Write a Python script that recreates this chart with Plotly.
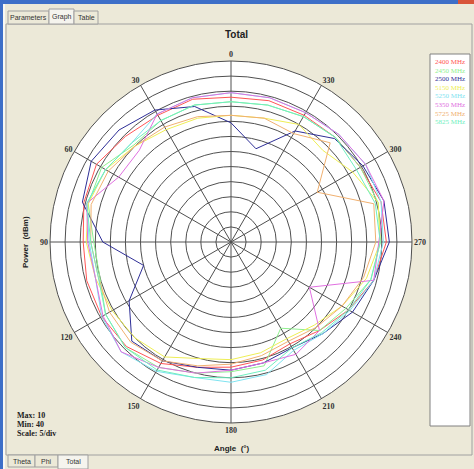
import plotly.graph_objects as go

W, H = 474, 469

angles = [0, 15, 30, 45, 60, 75, 90, 105, 120, 135, 150, 165,
          180, 195, 210, 225, 240, 255, 270, 285, 300, 315, 330, 345]

series_names = ["2400 MHz", "2450 MHz", "2500 MHz", "5150 MHz",
                "5250 MHz", "5350 MHz", "5725 MHz", "5825 MHz"]
series_colors = ["#FF5555", "#8FEF8F", "#2E2E96", "#EEEE55",
                 "#7FE3F0", "#E070E0", "#F0B070", "#6FEFC0"]

p2400 = [-2, -1, -1.5, -0.5, 1.5, 0.5, -1, -0.5, -0.5, -1, -3.5, -7,
         -8.5, -9.5, -11, -8.5, -5, -1, 1.5, 1.5, -0.5, -1, -1.5, -1.5]
p2450 = [-3.5, -3, -3.5, -4.5, -0.5, -1, -4.5, -5, -2, -0.5, -2, -5,
         -7, -7.5, -17, -8.5, -6, -2, -0.5, 0.5, -0.5, -1, -2, -3]
p2500 = [-10.5, -3.5, 0.5, 2.5, 3.5, 1, -7.5, -20, -11, -3.5, -4.5, -7,
         -7.5, -8.5, -9.5, -7, -3.5, -1, 2.5, 2.5, 0.5, -1.5, -7.5, -18]
p5150 = [-8, -7.5, -7, -5, -2, -1, -2, -3.5, -4.5, -5, -6, -10,
         -11, -12, -13, -11, -7.5, -3.5, -0.5, 0.5, -3.5, -7, -5, -7.5]
p5250 = [-0.5, -0.5, -1, -3.5, -2, -0.5, -3, -3.5, -0.5, 1.5, -0.5, -3.5,
         -3.5, -4.5, -8.5, -7, -4.5, -1, 0.5, 1.5, 1.5, 0.5, -0.5, -0.5]
p5350 = [-0.5, -0.5, -1, -7, -7, -0.5, -2.5, -3.5, -1, 1.5, -2, -5,
         -7.5, -8.5, -7, -8.5, -20, -1, -1, 2.5, 1.5, 0.5, -0.5, -0.5]
p5725 = [-8, -7, -6, -5, -3, -2, -3.5, -4.5, -3.5, -3, -4.5, -7.5,
         -9.5, -11, -12, -10, -7.5, -4.5, -2, -1, -17, -3.5, -8.5, -7.5]
p5825 = [-3.5, -3, -3.5, -3.5, -2, -0.5, -3.5, -4.5, -2, -0.5, -1, -3.5,
         -5, -6, -9.5, -7.5, -5, -2, -0.5, -0.5, -2, -1, -2, -3]

series_values = [p2400, p2450, p2500, p5150, p5250, p5350, p5725, p5825]

angle_ticks = [0, 30, 60, 90, 120, 150, 180, 210, 240, 270, 300, 330]
angle_labels = [str(a) for a in angle_ticks]

info_lines = ["Max: 10", "Min: 40", "Scale: 5/div"]
top_tabs = ["Parameters", "Graph", "Table"]
bottom_tabs = ["Theta", "Phi", "Total"]

BEIGE = "#ECE9D8"
GRID = "#505050"


def px(x):
    return x / W


def py(y):
    return 1 - y / H


fig = go.Figure()
for name, col, vals in zip(series_names, series_colors, series_values):
    fig.add_trace(go.Scatterpolar(
        r=vals + vals[:1], theta=angles + angles[:1], mode="lines",
        name=name, line=dict(color=col, width=1), showlegend=False,
        hoverinfo="skip"))

cx, cy, R = 231, 242, 181
fig.update_layout(
    width=W, height=H, autosize=False,
    margin=dict(l=0, r=0, t=0, b=0),
    paper_bgcolor=BEIGE,
    font=dict(family="Liberation Sans", size=8, color="#222"),
    polar=dict(
        domain=dict(x=[px(cx - R), px(cx + R)], y=[py(cy + R), py(cy - R)]),
        bgcolor="white",
        angularaxis=dict(
            rotation=90, direction="counterclockwise",
            tickmode="array", tickvals=angle_ticks, ticktext=angle_labels,
            ticks="", showline=True, linecolor=GRID, linewidth=1,
            gridcolor=GRID, gridwidth=1,
            tickfont=dict(family="Liberation Serif", size=8, color="#333",
                          weight="bold"),
        ),
        radialaxis=dict(
            range=[-50, 10], tick0=-50, dtick=5, showticklabels=False,
            ticks="", showline=False, gridcolor=GRID, gridwidth=1,
        ),
    ),
)

shapes = []
ann = []

# window frame
shapes.append(dict(type="rect", xref="paper", yref="paper", x0=0, x1=1,
                   y0=py(4), y1=1, fillcolor="#3D6FC8", line=dict(width=0)))
shapes.append(dict(type="rect", xref="paper", yref="paper", x0=0, x1=px(3),
                   y0=0, y1=1, fillcolor="#3D6FC8", line=dict(width=0)))
shapes.append(dict(type="rect", xref="paper", yref="paper", x0=px(3), x1=px(5),
                   y0=0, y1=py(4), fillcolor="#F8F8F4", line=dict(width=0)))
shapes.append(dict(type="rect", xref="paper", yref="paper", x0=px(458), x1=px(474),
                   y0=py(4), y1=1, fillcolor="#D8553A", line=dict(width=0)))
# tab page border
shapes.append(dict(type="rect", xref="paper", yref="paper", x0=px(6), x1=px(472),
                   y0=py(455), y1=py(24), fillcolor="rgba(0,0,0,0)",
                   line=dict(color="#A0A0A0", width=1)))
# top tabs
top_x = [(8, 49), (49, 74), (74, 98)]
for (a, b), t in zip(top_x, top_tabs):
    sel = t == "Graph"
    shapes.append(dict(type="rect", xref="paper", yref="paper", x0=px(a), x1=px(b),
                       y0=py(24), y1=py(9 if sel else 11),
                       fillcolor="#F5F4EE" if sel else BEIGE,
                       line=dict(color="#A0A0A0", width=1)))
    ann.append(dict(x=px((a + b) / 2), y=py(17), xref="paper", yref="paper",
                    text=t, showarrow=False, font=dict(size=7, color="#333"),
                    xanchor="center", yanchor="middle"))
# bottom tabs
bot_x = [(8, 35), (35, 58), (58, 88)]
for (a, b), t in zip(bot_x, bottom_tabs):
    sel = t == "Total"
    shapes.append(dict(type="rect", xref="paper", yref="paper", x0=px(a), x1=px(b),
                       y0=py(469 if sel else 467), y1=py(455),
                       fillcolor="#F5F4EE" if sel else BEIGE,
                       line=dict(color="#A0A0A0", width=1)))
    ann.append(dict(x=px((a + b) / 2), y=py(461), xref="paper", yref="paper",
                    text=t, showarrow=False, font=dict(size=7, color="#333"),
                    xanchor="center", yanchor="middle"))

# legend box
shapes.append(dict(type="rect", xref="paper", yref="paper", x0=px(430), x1=px(470),
                   y0=py(426), y1=py(54), fillcolor="white",
                   line=dict(color="#808080", width=1)))
for i, (name, col) in enumerate(zip(series_names, series_colors)):
    ann.append(dict(x=px(450), y=py(62 + i * 8.6), xref="paper", yref="paper",
                    text=name, showarrow=False,
                    font=dict(family="Liberation Serif", size=7, color=col),
                    xanchor="center", yanchor="middle"))

# titles
ann.append(dict(x=px(236), y=py(34), xref="paper", yref="paper", text="<b>Total</b>",
                showarrow=False, font=dict(size=10, color="#222"),
                xanchor="center", yanchor="middle"))
ann.append(dict(x=px(232), y=py(448), xref="paper", yref="paper", text="<b>Angle  (°)</b>",
                showarrow=False, font=dict(size=8, color="#222"),
                xanchor="center", yanchor="middle"))
ann.append(dict(x=px(25), y=py(242), xref="paper", yref="paper", text="<b>Power  (dBm)</b>",
                showarrow=False, textangle=-90, font=dict(size=8, color="#222"),
                xanchor="center", yanchor="middle"))
for i, t in enumerate(info_lines):
    ann.append(dict(x=px(15), y=py(415 + i * 9), xref="paper", yref="paper",
                    text="<b>" + t + "</b>", showarrow=False,
                    font=dict(family="Liberation Serif", size=8, color="#222"),
                    xanchor="left", yanchor="middle"))

fig.update_layout(shapes=shapes, annotations=ann)
fig.write_html(
    "out.html",
    config={"displayModeBar": False},
    post_script="document.body.style.margin='0';document.body.style.overflow='hidden';",
)
